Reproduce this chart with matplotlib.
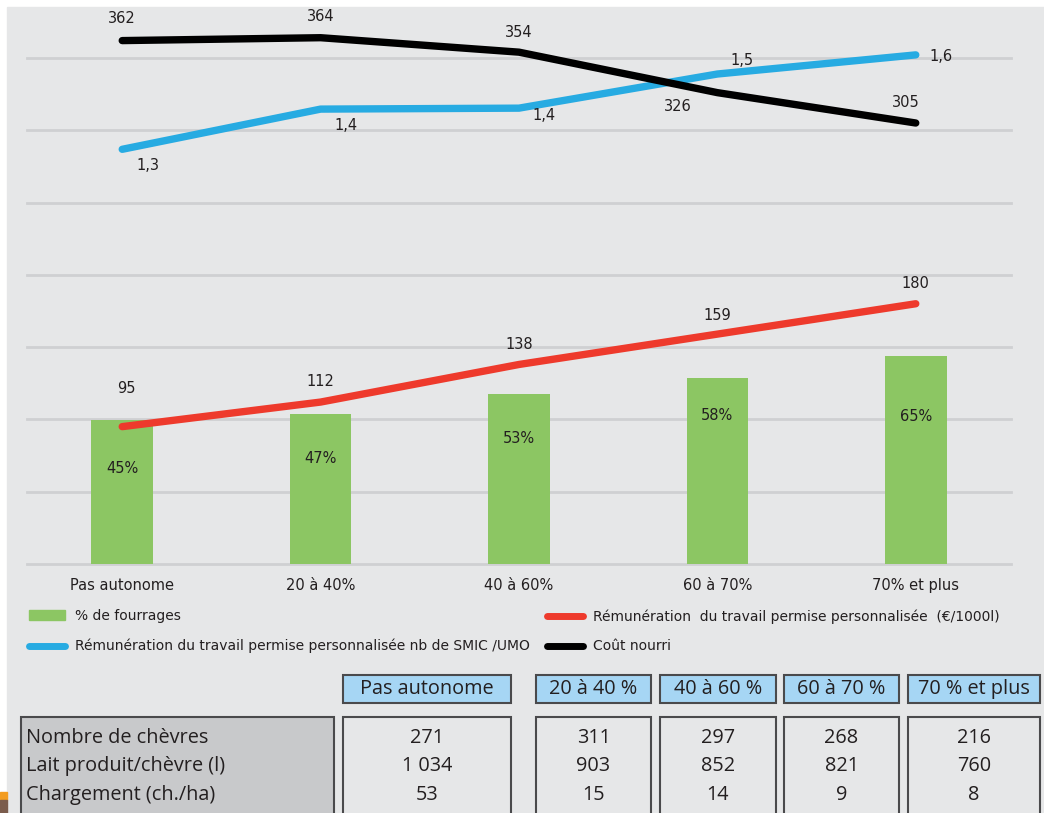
import numpy as np
import matplotlib
matplotlib.use('Agg')
import matplotlib.pyplot as plt
from matplotlib.patches import Rectangle
from matplotlib.lines import Line2D

# chart data
categories = ['Pas autonome', '20 à 40%', '40 à 60%', '60 à 70%', '70% et plus']
fourrages = [45, 47, 53, 58, 65]
remuneration_1000l = [95, 112, 138, 159, 180]
remuneration_smic = [1.30, 1.426, 1.429, 1.536, 1.596]
cout_nourri = [362, 364, 354, 326, 305]

# table data
table_header = ['Pas autonome', '20 à 40 %', '40 à 60 %', '60 à 70 %', '70 % et plus']
table_rows = ['Nombre de chèvres', 'Lait produit/chèvre (l)', 'Chargement (ch./ha)']
nb_chevres = ['271', '311', '297', '268', '216']
lait_chevre = ['1 034', '903', '852', '821', '760']
chargement = ['53', '15', '14', '9', '8']

BG = '#e6e7e8'
GRID = '#cfd0d2'
GREEN = '#8cc663'
RED = '#ee3a2c'
BLUE = '#27abe2'
HEAD = '#a6d6f4'
LABELBOX = '#c8c9cb'
BORDER = '#4a4a4c'
TXT = '#231f20'

plt.rcParams['font.family'] = ['DejaVu Sans']

W, H = 1044, 813
fig = plt.figure(figsize=(W / 100, H / 100), dpi=100)
fig.patch.set_facecolor('white')

def fx(px):
    return px / W

def fy(py):
    return 1 - py / H

# grey background and the little corner mark
fig.patches.append(Rectangle((fx(7), 0), 1, fy(7), transform=fig.transFigure,
                             color=BG, zorder=-5))
fig.patches.append(Rectangle((0, fy(800)), fx(7), 8 / H, transform=fig.transFigure,
                             color='#f39c1f', zorder=-5))
fig.patches.append(Rectangle((0, 0), fx(7), fy(800), transform=fig.transFigure,
                             color='#7b5c4c', zorder=-5))

rect = [fx(27), fy(564), fx(1011) - fx(27), (564 - 15) / H]
x = np.arange(len(categories))

# base axes: gridlines + category labels (scale of the €/1000l and coût nourri)
ax = fig.add_axes(rect)
ax.set_facecolor('none')
ax.set_xlim(-0.48, 4.48)
ax.set_ylim(0, 379.7)
ax.set_yticks(np.arange(0, 400, 50))
ax.yaxis.grid(True, color=GRID, lw=2)
ax.set_axisbelow(True)
ax.tick_params(axis='y', length=0, labelleft=False)
ax.tick_params(axis='x', length=0, pad=10, labelsize=10.5, labelcolor=TXT)
ax.set_xticks(x, categories)
for s in ax.spines.values():
    s.set_visible(False)
for gl in ax.get_ygridlines():
    gl.set_clip_on(False)

# bars
axb = ax.twinx()
axb.set_ylim(0, 171.5)
axb.axis('off')
axb.bar(x, fourrages, width=0.31, color=GREEN)
bar_off = [-49, -45, -44, -37, -61]
for i, v in enumerate(fourrages):
    axb.annotate(f'{v}%', (x[i], v), xytext=(0, bar_off[i]), textcoords='offset pixels',
                 ha='center', va='center', fontsize=10.5, color=TXT)

# blue line on its own scale
axs = ax.twinx()
axs.set_ylim(0, 1.721)
axs.axis('off')
axs.plot(x, remuneration_smic, color=BLUE, lw=5.3, solid_capstyle='round')
blue_off = [(26, -16), (25, -16), (25, -7), (25, 14), (25, -2)]
for i, v in enumerate(remuneration_smic):
    axs.annotate(f'{v:.1f}'.replace('.', ','), (x[i], v), xytext=blue_off[i],
                 textcoords='offset pixels', ha='center', va='center',
                 fontsize=10.5, color=TXT)

# red and black lines share the base scale
axl = fig.add_axes(rect, sharex=ax, sharey=ax)
axl.axis('off')
axl.plot(x, remuneration_1000l, color=RED, lw=5.3, solid_capstyle='round')
axl.plot(x, cout_nourri, color='black', lw=5.3, solid_capstyle='round')
red_off = [(4, 38), (0, 21), (0, 20), (0, 19), (0, 20)]
black_off = [(0, 22), (0, 21), (0, 20), (-40, -14), (-10, 21)]
for i in range(len(x)):
    axl.annotate(str(remuneration_1000l[i]), (x[i], remuneration_1000l[i]), xytext=red_off[i],
                 textcoords='offset pixels', ha='center', va='center', fontsize=10.5, color=TXT)
    axl.annotate(str(cout_nourri[i]), (x[i], cout_nourri[i]), xytext=black_off[i],
                 textcoords='offset pixels', ha='center', va='center', fontsize=10.5, color=TXT)

# legend, two columns
h_green = Rectangle((0, 0), 1, 1, color=GREEN)
h_blue = Line2D([], [], color=BLUE, lw=5, solid_capstyle='round')
h_red = Line2D([], [], color=RED, lw=5, solid_capstyle='round')
h_black = Line2D([], [], color='black', lw=5, solid_capstyle='round')
leg_kw = dict(frameon=False, fontsize=10, handlelength=2.6, handleheight=0.7,
              handletextpad=0.7, labelspacing=1.15, borderpad=0, borderaxespad=0,
              loc='upper left', labelcolor=TXT)
leg1 = fig.legend([h_green, h_blue],
                  ['% de fourrages',
                   'Rémunération du travail permise personnalisée nb de SMIC /UMO'],
                  bbox_to_anchor=(fx(29), fy(609)), **leg_kw)
leg2 = fig.legend([h_red, h_black],
                  ['Rémunération  du travail permise personnalisée  (€/1000l)', 'Coût nourri'],
                  bbox_to_anchor=(fx(547), fy(609)), **leg_kw)

# table below the chart
tfont = ['Open Sans', 'DejaVu Sans']
tsize = 14.3
cols = [(343, 511), (536, 651), (660, 776), (784, 899), (908, 1040)]
for (x0, x1), lab in zip(cols, table_header):
    fig.patches.append(Rectangle((fx(x0), fy(703)), fx(x1) - fx(x0), 28 / H,
                                 transform=fig.transFigure, facecolor=HEAD,
                                 edgecolor=BORDER, lw=1.5))
    fig.text(fx((x0 + x1) / 2), fy(689), lab, ha='center', va='center',
             fontsize=tsize, family=tfont, color=TXT)

fig.patches.append(Rectangle((fx(21), fy(830)), fx(334) - fx(21), (830 - 717) / H,
                             transform=fig.transFigure, facecolor=LABELBOX,
                             edgecolor=BORDER, lw=1.5))
row_y = [738, 766, 795]
for lab, yy in zip(table_rows, row_y):
    fig.text(fx(26), fy(yy), lab, ha='left', va='center', fontsize=tsize,
             family=tfont, color=TXT)

values = [nb_chevres, lait_chevre, chargement]
for j, (x0, x1) in enumerate(cols):
    fig.patches.append(Rectangle((fx(x0), fy(830)), fx(x1) - fx(x0), (830 - 717) / H,
                                 transform=fig.transFigure, facecolor='none',
                                 edgecolor=BORDER, lw=1.5))
    for row, yy in zip(values, row_y):
        fig.text(fx((x0 + x1) / 2), fy(yy), row[j], ha='center', va='center',
                 fontsize=tsize, family=tfont, color=TXT)

fig.savefig('out.png', dpi=100)
